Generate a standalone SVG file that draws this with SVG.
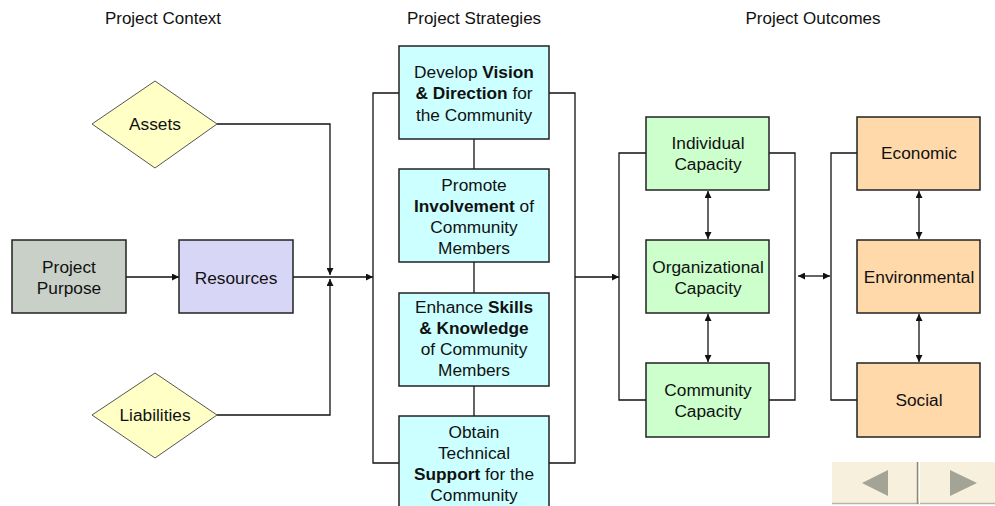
<svg xmlns="http://www.w3.org/2000/svg" width="995" height="506" viewBox="0 0 995 506">
<style>
text{font-family:"Liberation Sans",Arial,sans-serif;fill:#111;text-anchor:middle}
.h{font-size:17px}
.t{font-size:17.3px}
.b{font-weight:bold}
.box{stroke:#222;stroke-width:1.5}
.dia{fill:#ffffc6;stroke:#555;stroke-width:1}
.c{fill:none;stroke:#111;stroke-width:1.3}
</style>
<defs>
<marker id="ar" viewBox="0 0 8 8" refX="8" refY="4" markerWidth="7" markerHeight="7" markerUnits="userSpaceOnUse" orient="auto-start-reverse">
<path d="M0,0 L8,4 L0,8 z" fill="#111"/>
</marker>
</defs>
<rect width="995" height="506" fill="#fff"/>
<g id="headers">
<text class="h" x="163" y="24">Project Context</text>
<text class="h" x="474" y="24">Project Strategies</text>
<text class="h" x="813" y="24">Project Outcomes</text>
</g>
<g id="connectors">
<line class="c" x1="126" y1="277" x2="179" y2="277" marker-end="url(#ar)"/>
<line class="c" x1="293" y1="277" x2="373" y2="277" marker-end="url(#ar)"/>
<polyline class="c" points="217,124 330,124 330,275" marker-end="url(#ar)"/>
<polyline class="c" points="217,415 330,415 330,279" marker-end="url(#ar)"/>
<path class="c" d="M399,93 H373 V463 H399"/>
<line class="c" x1="474" y1="139" x2="474" y2="169"/>
<line class="c" x1="474" y1="262" x2="474" y2="293"/>
<line class="c" x1="474" y1="386" x2="474" y2="416"/>
<path class="c" d="M549,93 H575 V463 H549"/>
<line class="c" x1="575" y1="277" x2="619" y2="277" marker-end="url(#ar)"/>
<path class="c" d="M646,153 H619 V400 H646"/>
<line class="c" x1="708" y1="191" x2="708" y2="239" marker-start="url(#ar)" marker-end="url(#ar)"/>
<line class="c" x1="708" y1="314" x2="708" y2="362" marker-start="url(#ar)" marker-end="url(#ar)"/>
<path class="c" d="M769,153 H795 V400 H769"/>
<line class="c" x1="798" y1="276" x2="830" y2="276" marker-start="url(#ar)" marker-end="url(#ar)"/>
<path class="c" d="M857,153 H831 V400 H857"/>
<line class="c" x1="919" y1="191" x2="919" y2="239" marker-start="url(#ar)" marker-end="url(#ar)"/>
<line class="c" x1="919" y1="314" x2="919" y2="362" marker-start="url(#ar)" marker-end="url(#ar)"/>
</g>
<g id="assets">
<polygon class="dia" points="92,124 155,81 217,124 155,168"/>
<text class="t" x="155" y="130">Assets</text>
</g>
<g id="liabilities">
<polygon class="dia" points="92,415 155,373 217,415 155,458"/>
<text class="t" x="155" y="421">Liabilities</text>
</g>
<g id="purpose">
<rect class="box" x="12" y="240" width="114" height="73" fill="#c8d0c8"/>
<text class="t" x="69" y="273">Project</text>
<text class="t" x="69" y="294">Purpose</text>
</g>
<g id="resources">
<rect class="box" x="179" y="240" width="114" height="73" fill="#d8d6f6"/>
<text class="t" x="236" y="284">Resources</text>
</g>
<g id="vision">
<rect class="box" x="399" y="46" width="150" height="93" fill="#ccffff"/>
<text class="t" x="474" y="78">Develop <tspan class="b">Vision</tspan></text>
<text class="t" x="474" y="99"><tspan class="b">&amp; Direction</tspan> for</text>
<text class="t" x="474" y="121">the Community</text>
</g>
<g id="involvement">
<rect class="box" x="399" y="169" width="150" height="93" fill="#ccffff"/>
<text class="t" x="474" y="191">Promote</text>
<text class="t" x="474" y="212"><tspan class="b">Involvement</tspan> of</text>
<text class="t" x="474" y="233">Community</text>
<text class="t" x="474" y="254">Members</text>
</g>
<g id="skills">
<rect class="box" x="399" y="293" width="150" height="93" fill="#ccffff"/>
<text class="t" x="474" y="313">Enhance <tspan class="b">Skills</tspan></text>
<text class="t b" x="474" y="334">&amp; Knowledge</text>
<text class="t" x="474" y="355">of Community</text>
<text class="t" x="474" y="376">Members</text>
</g>
<g id="support">
<rect class="box" x="399" y="416" width="150" height="93" fill="#ccffff"/>
<text class="t" x="474" y="438">Obtain</text>
<text class="t" x="474" y="459">Technical</text>
<text class="t" x="474" y="480"><tspan class="b">Support</tspan> for the</text>
<text class="t" x="474" y="501">Community</text>
</g>
<g id="individual">
<rect class="box" x="646" y="117" width="123" height="73" fill="#ccffcc"/>
<text class="t" x="708" y="149">Individual</text>
<text class="t" x="708" y="170">Capacity</text>
</g>
<g id="organizational">
<rect class="box" x="646" y="240" width="123" height="73" fill="#ccffcc"/>
<text class="t" x="708" y="273">Organizational</text>
<text class="t" x="708" y="294">Capacity</text>
</g>
<g id="community">
<rect class="box" x="646" y="363" width="123" height="74" fill="#ccffcc"/>
<text class="t" x="708" y="396">Community</text>
<text class="t" x="708" y="417">Capacity</text>
</g>
<g id="economic">
<rect class="box" x="857" y="117" width="123" height="73" fill="#ffd9aa"/>
<text class="t" x="919" y="159">Economic</text>
</g>
<g id="environmental">
<rect class="box" x="857" y="240" width="123" height="73" fill="#ffd9aa"/>
<text class="t" x="919" y="283">Environmental</text>
</g>
<g id="social">
<rect class="box" x="857" y="363" width="123" height="74" fill="#ffd9aa"/>
<text class="t" x="919" y="406">Social</text>
</g>
<g id="nav">
<rect x="832" y="462" width="163" height="41" fill="#f7f0dc"/>
<line x1="832" y1="503.5" x2="995" y2="503.5" stroke="#b8b4a4" stroke-width="1.5"/>
<line x1="917.5" y1="462" x2="917.5" y2="504" stroke="#8a8a80" stroke-width="1.5"/>
<line x1="919.5" y1="462" x2="919.5" y2="504" stroke="#ffffff" stroke-width="1"/>
<polygon points="862,483 888,470 888,496" fill="#a4a496"/>
<polygon points="950,470 977,483 950,496" fill="#a4a496"/>
</g>
</svg>
